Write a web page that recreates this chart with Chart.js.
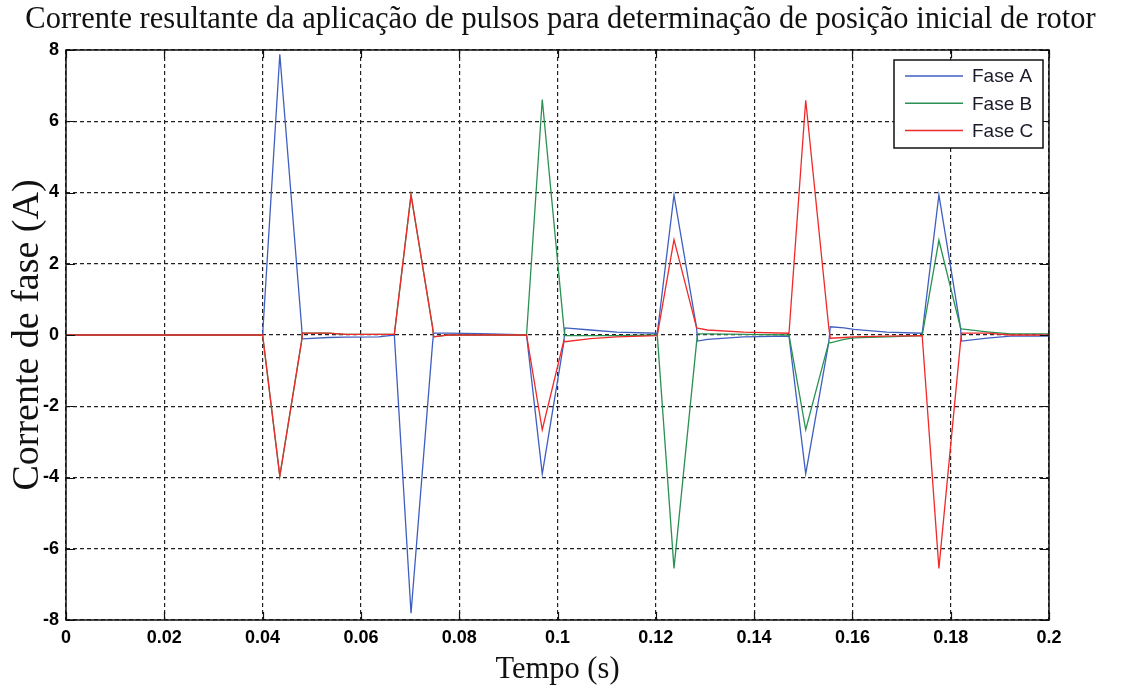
<!DOCTYPE html>
<html><head><meta charset="utf-8">
<script src="https://cdn.jsdelivr.net/npm/chart.js@4.4.1/dist/chart.umd.min.js"></script>
<style>html,body{margin:0;padding:0;background:#fff;} #wrap{width:1121px;height:689px;position:relative;}</style>
</head><body><div id="wrap"><canvas id="c"></canvas></div>
<script>
const titleText = "Corrente resultante da aplicação de pulsos para determinação de posição inicial de rotor";
const xAxisTitle = "Tempo (s)";
const yAxisTitle = "Corrente de fase (A)";
const seriesNames = ["Fase A", "Fase B", "Fase C"];
const seriesColors = ["#3f5fc0", "#2a9152", "#f02a2a"];

const time = [0, 0.0400, 0.0435, 0.0479, 0.0481, 0.0534, 0.0569, 0.0636, 0.0668, 0.0702,
              0.0746, 0.0748, 0.0776, 0.0843, 0.0937, 0.0969, 0.1013, 0.1015, 0.1067, 0.1121,
              0.1203, 0.1237, 0.1283, 0.1285, 0.1305, 0.1379, 0.1471, 0.1505, 0.1552, 0.1555,
              0.1583, 0.1603, 0.1670, 0.1742, 0.1776, 0.1820, 0.1822, 0.1874, 0.1922, 0.2000];
const faseA = [0, 0, 7.88, 0.3, -0.11, -0.07, -0.06, -0.05, 0, -7.81,
               -0.2, 0.05, 0.05, 0.04, 0, -3.9, -0.2, 0.2, 0.14, 0.08,
               0.05, 3.93, 0.2, -0.17, -0.12, -0.05, -0.03, -3.9, -0.2, 0.23,
               0.2, 0.16, 0.08, 0.05, 3.93, 0.2, -0.17, -0.09, -0.03, -0.03];
const faseB = [0, 0, -3.96, -0.2, 0.05, 0.05, 0.02, 0.02, 0.02, 3.93,
               0.2, -0.05, 0, 0, 0, 6.61, 0.2, -0.02, -0.02, -0.02,
               0, -6.55, -0.2, 0.03, 0.03, 0.02, 0, -2.66, -0.2, -0.22,
               -0.12, -0.08, -0.05, -0.02, 2.66, 0.2, 0.17, 0.09, 0.03, 0.03];
const faseC = [0, 0, -3.96, -0.2, 0.05, 0.05, 0.02, 0.02, 0.02, 3.93,
               0.2, -0.05, 0, 0, 0, -2.66, -0.15, -0.19, -0.1, -0.05,
               -0.02, 2.68, 0.2, 0.19, 0.14, 0.08, 0.05, 6.59, 0.2, -0.09,
               -0.07, -0.05, -0.03, -0.02, -6.55, -0.2, 0.05, 0.05, 0, 0];
const xTicks = [0, 0.02, 0.04, 0.06, 0.08, 0.1, 0.12, 0.14, 0.16, 0.18, 0.2];
const yTicks = [-8, -6, -4, -2, 0, 2, 4, 6, 8];

const seriesValues = [faseA, faseB, faseC];
const datasets = seriesValues.map((vals, i) => ({
  label: seriesNames[i],
  data: time.map((t, k) => ({x: t, y: vals[k]})),
  borderColor: seriesColors[i],
  backgroundColor: seriesColors[i],
  borderWidth: 1.3,
  pointRadius: 0,
  tension: 0,
  fill: false,
  order: 3 - i
}));

const fmt = v => String(Number(v.toFixed(4)));
const serif = '"Liberation Serif", "Times New Roman", serif';
const sans = '"Liberation Sans", Arial, sans-serif';

const framePlugin = {
  id: 'frame',
  afterDatasetsDraw(chart) {
    const {ctx, chartArea: a, scales} = chart;
    ctx.save();
    ctx.strokeStyle = '#111';
    ctx.lineWidth = 1.2;
    ctx.setLineDash([]);
    ctx.beginPath();
    xTicks.forEach(v => {
      const px = Math.round(scales.x.getPixelForValue(v)) + 0.5;
      ctx.moveTo(px, a.top); ctx.lineTo(px, a.top + 8);
      ctx.moveTo(px, a.bottom); ctx.lineTo(px, a.bottom - 8);
    });
    yTicks.forEach(v => {
      const py = Math.round(scales.y.getPixelForValue(v)) + 0.5;
      ctx.moveTo(a.left, py); ctx.lineTo(a.left + 9, py);
      ctx.moveTo(a.right, py); ctx.lineTo(a.right - 9, py);
    });
    ctx.stroke();
    ctx.lineWidth = 1.5;
    ctx.strokeRect(a.left, a.top, a.right - a.left, a.bottom - a.top);
    ctx.restore();
  },
  afterDraw(chart) {
    const {ctx, chartArea: a} = chart;
    const right = a.right - 6, top = a.top + 10, w = 149, h = 88;
    const left = right - w;
    ctx.save();
    ctx.fillStyle = '#fff';
    ctx.fillRect(left, top, w, h);
    ctx.strokeStyle = '#111';
    ctx.lineWidth = 1.5;
    ctx.setLineDash([]);
    ctx.strokeRect(left, top, w, h);
    ctx.font = '19px ' + sans;
    ctx.textBaseline = 'middle';
    ctx.textAlign = 'left';
    chart.data.datasets.forEach((ds, i) => {
      const y = top + 16 + i * 27.3;
      ctx.strokeStyle = ds.borderColor;
      ctx.lineWidth = 1.5;
      ctx.beginPath();
      ctx.moveTo(left + 11, y); ctx.lineTo(left + 69, y);
      ctx.stroke();
      ctx.fillStyle = '#1a1a2a';
      ctx.fillText(ds.label, left + 78, y + 1);
    });
    ctx.restore();
  }
};

new Chart(document.getElementById('c'), {
  type: 'line',
  data: {datasets},
  options: {
    responsive: true,
    maintainAspectRatio: false,
    animation: false,
    layout: {padding: {left: 0, right: 0, top: 0, bottom: 0}},
    plugins: {
      legend: {display: false},
      tooltip: {enabled: false},
      title: {
        display: true,
        text: titleText,
        color: '#111',
        font: {family: serif, size: 30.5, weight: 'normal'},
        padding: {top: 1.7, bottom: 11.7}
      }
    },
    scales: {
      x: {
        type: 'linear',
        min: 0, max: 0.2,
        afterBuildTicks: s => { s.ticks = xTicks.map(v => ({value: v})); },
        afterFit: s => { s.height = 69; },
        ticks: {
          autoSkip: false, maxRotation: 0, padding: 7, color: '#000',
          font: {family: sans, size: 18, weight: 'bold'},
          callback: v => fmt(v)
        },
        grid: {color: '#222', lineWidth: 1.2, drawTicks: false},
        border: {display: false, dash: [4, 3]},
        title: {
          display: true, text: xAxisTitle, color: '#111',
          font: {family: serif, size: 30.5, weight: 'normal'},
          padding: {top: 0, bottom: 1}
        }
      },
      y: {
        type: 'linear',
        position: 'left',
        min: -8, max: 8,
        afterBuildTicks: s => { s.ticks = yTicks.map(v => ({value: v})); },
        afterFit: s => { s.width = 66; },
        ticks: {
          padding: 7, color: '#000',
          font: {family: sans, size: 18, weight: 'bold'},
          callback: v => fmt(v)
        },
        grid: {color: '#222', lineWidth: 1.2, drawTicks: false},
        border: {display: false, dash: [4, 3]},
        title: {
          display: true, text: yAxisTitle, color: '#111',
          font: {family: serif, size: 38, weight: 'normal'},
          padding: {top: 5, bottom: 0}
        }
      },
      y2: {
        type: 'linear',
        position: 'right',
        min: 0, max: 1,
        afterFit: s => { s.width = 72; },
        ticks: {display: false},
        grid: {display: false},
        border: {display: false}
      }
    }
  },
  plugins: [framePlugin]
});
</script>
</body></html>
